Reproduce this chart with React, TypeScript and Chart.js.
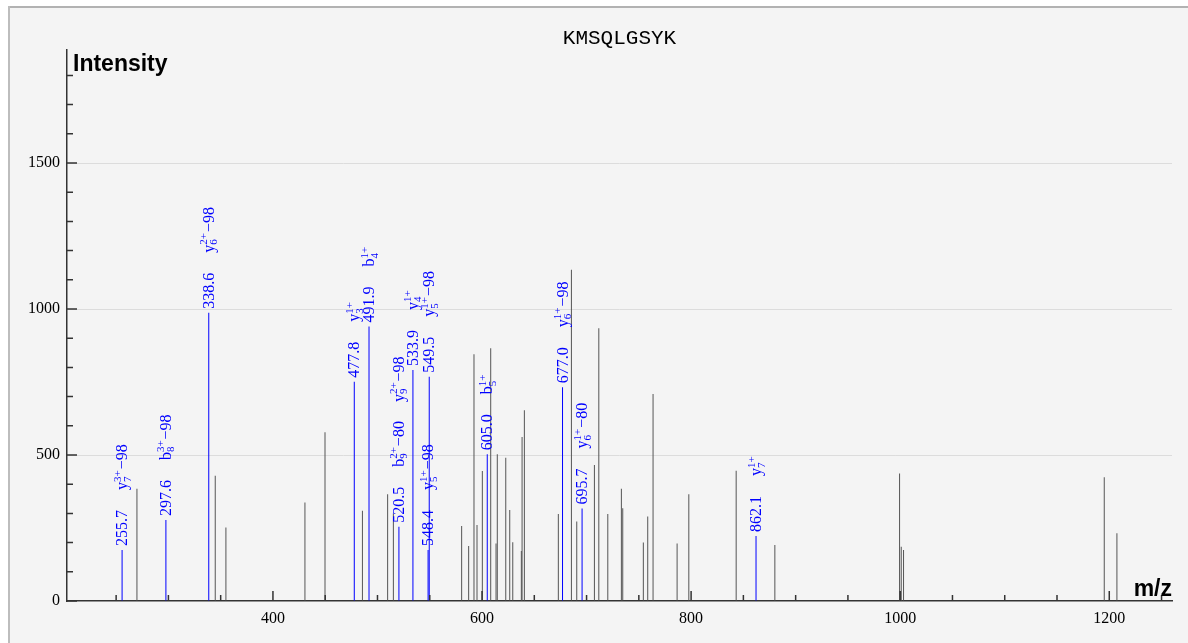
import React, { useEffect, useRef } from 'react';
import { Chart, registerables } from 'chart.js';

Chart.register(...registerables);

const TITLE = 'KMSQLGSYK';
const Y_TITLE = 'Intensity';
const X_TITLE = 'm/z';

// annotated (matched) peaks
const annotatedMz = [255.7, 297.6, 338.6, 477.8, 491.9, 520.5, 533.9, 548.4, 549.5, 605.0, 677.0, 695.7, 862.1];
const annotatedIntensity = [175, 277, 987, 751, 940, 254, 791, 175, 768, 503, 732, 317, 223];
// ion labels: "base,subscript,superscript,loss" ; several ions per peak
const annotatedIons: string[][] = [
  ['y,7,3+,−98'],
  ['b,8,3+,−98'],
  ['y,6,2+,−98'],
  ['y,3,1+,'],
  ['b,4,1+,'],
  ['b,9,2+,−80', 'y,9,2+,−98'],
  ['y,4,1+,'],
  ['y,5,1+,−98'],
  ['y,5,1+,−98'],
  ['b,5,1+,'],
  ['y,6,1+,−98'],
  ['y,6,1+,−80'],
  ['y,7,1+,'],
];

// unmatched peaks
const otherMz = [269.9, 344.8, 355.0, 430.6, 449.8, 485.6, 509.7, 515.2, 580.5, 587.2, 592.3, 595.2, 600.3, 608.3, 613.4, 614.6, 622.7, 626.5, 629.4, 637.6, 638.3, 640.5, 673.0, 685.5, 690.6, 707.5, 711.7, 720.3, 733.3, 734.6, 754.3, 758.5, 763.6, 786.6, 797.8, 843.1, 880.1, 999.4, 1001.0, 1003.2, 1195.2, 1207.3];
const otherIntensity = [384, 429, 252, 337, 578, 309, 366, 300, 257, 188, 845, 260, 445, 866, 197, 503, 491, 312, 201, 171, 562, 653, 298, 1134, 272, 466, 934, 298, 384, 318, 200, 289, 709, 197, 366, 446, 192, 437, 186, 175, 424, 232];

const X_MIN = 203;
const X_MAX = 1260;
const Y_MAX = 1887;
const X_TICK_STEP = 50;
const X_LABEL_STEP = 200;
const Y_TICK_STEP = 100;
const Y_LABEL_STEP = 500;

const SERIF = '"Liberation Serif", "Times New Roman", serif';
const SANS = '"Liberation Sans", Arial, sans-serif';
const MONO = '"Liberation Mono", "Courier New", monospace';
const BLUE = '#0000ff';

export default function App() {
  const ref = useRef<HTMLCanvasElement>(null);

  useEffect(() => {
    const canvas = ref.current;
    if (!canvas) return;

    const framePlugin = {
      id: 'frame',
      beforeDraw(chart: any) {
        const ctx = chart.ctx;
        ctx.save();
        ctx.fillStyle = '#ffffff';
        ctx.fillRect(0, 0, chart.width, chart.height);
        ctx.fillStyle = '#f4f4f4';
        ctx.fillRect(10, 8, chart.width - 10, chart.height - 8);
        ctx.fillStyle = '#b2b2b2';
        ctx.fillRect(8, 6, chart.width - 8, 2);
        ctx.fillStyle = '#bdbdbd';
        ctx.fillRect(8, 6, 2, chart.height - 6);
        ctx.restore();
      },
    };

    const overlayPlugin = {
      id: 'overlay',
      afterDraw(chart: any) {
        const ctx = chart.ctx as CanvasRenderingContext2D;
        const xs = chart.scales.x;
        const ys = chart.scales.y;
        const area = chart.chartArea;
        ctx.save();
        // inward tick marks
        ctx.strokeStyle = '#333';
        ctx.lineWidth = 1.5;
        ctx.beginPath();
        for (let v = Math.ceil(X_MIN / X_TICK_STEP) * X_TICK_STEP; v <= X_MAX; v += X_TICK_STEP) {
          const px = xs.getPixelForValue(v);
          const len = v % X_LABEL_STEP === 0 ? 10 : 6;
          ctx.moveTo(px, area.bottom);
          ctx.lineTo(px, area.bottom - len);
        }
        for (let v = 0; v <= Y_MAX; v += Y_TICK_STEP) {
          const py = ys.getPixelForValue(v);
          const len = v % Y_LABEL_STEP === 0 ? 10 : 6;
          ctx.moveTo(area.left, py);
          ctx.lineTo(area.left + len, py);
        }
        ctx.stroke();

        // peak annotations (rotated)
        ctx.fillStyle = BLUE;
        const BASE = 5;
        const SUP = -1.5;
        const SUB = 8.5;
        annotatedMz.forEach((mz, i) => {
          const px = xs.getPixelForValue(mz);
          const py = ys.getPixelForValue(annotatedIntensity[i]);
          ctx.save();
          ctx.translate(px, py);
          ctx.rotate(-Math.PI / 2);
          ctx.textAlign = 'left';
          ctx.textBaseline = 'alphabetic';
          ctx.font = `16px ${SERIF}`;
          let d = 4;
          const num = mz.toFixed(1);
          ctx.fillText(num, d, BASE);
          d += ctx.measureText(num).width + 20;
          annotatedIons[i].forEach((spec) => {
            const [base, sub, sup, loss] = spec.split(',');
            ctx.font = `16px ${SERIF}`;
            ctx.fillText(base, d, BASE);
            d += ctx.measureText(base).width;
            ctx.font = `11px ${SERIF}`;
            ctx.fillText(sup, d, SUP);
            ctx.fillText(sub, d, SUB);
            d += Math.max(ctx.measureText(sup).width, ctx.measureText(sub).width) + 1;
            if (loss) {
              ctx.font = `16px ${SERIF}`;
              ctx.fillText(loss, d, BASE);
              d += ctx.measureText(loss).width;
            }
            d += 19;
          });
          ctx.restore();
        });

        // titles
        ctx.fillStyle = '#000';
        ctx.font = `21px ${MONO}`;
        ctx.textAlign = 'center';
        ctx.textBaseline = 'alphabetic';
        ctx.fillText(TITLE, (area.left + area.right) / 2, 44);
        ctx.font = `bold 23px ${SANS}`;
        ctx.textAlign = 'left';
        ctx.fillText(Y_TITLE, area.left + 6, 71);
        ctx.textAlign = 'right';
        ctx.fillText(X_TITLE, area.right, area.bottom - 5);
        ctx.restore();
      },
    };

    const chart = new Chart(canvas, {
      type: 'bar',
      data: {
        datasets: [
          {
            data: otherMz.map((x, i) => ({ x, y: otherIntensity[i] })),
            backgroundColor: '#555',
            barThickness: 1,
            grouped: false,
            inflateAmount: 0,
            borderWidth: 0,
          } as any,
          {
            data: annotatedMz.map((x, i) => ({ x, y: annotatedIntensity[i] })),
            backgroundColor: BLUE,
            barThickness: 1,
            grouped: false,
            inflateAmount: 0,
            borderWidth: 0,
          } as any,
        ],
      },
      options: {
        animation: false,
        responsive: false,
        devicePixelRatio: 1,
        layout: { padding: { top: 50, right: 16, left: 0, bottom: 0 } },
        plugins: {
          legend: { display: false },
          tooltip: { enabled: false },
          title: { display: false },
        },
        scales: {
          x: {
            type: 'linear',
            min: X_MIN,
            max: X_MAX,
            offset: false,
            grid: { display: false, offset: false, drawTicks: false },
            border: { display: true, color: '#333', width: 1.5 },
            ticks: {
              stepSize: X_TICK_STEP,
              autoSkip: false,
              includeBounds: false,
              maxRotation: 0,
              padding: 8,
              color: '#000',
              font: { family: SERIF, size: 16 },
              callback: (v: any) => (Number(v) % X_LABEL_STEP === 0 ? String(v) : ''),
            },
            afterFit: (s: any) => {
              s.height = 42;
            },
          },
          y: {
            type: 'linear',
            min: 0,
            max: Y_MAX,
            grid: {
              drawTicks: false,
              lineWidth: 1,
              color: (c: any) =>
                c.tick && c.tick.value > 0 && c.tick.value % Y_LABEL_STEP === 0 ? '#dcdcdc' : 'rgba(0,0,0,0)',
            },
            border: { display: true, color: '#333', width: 1.5 },
            ticks: {
              stepSize: Y_TICK_STEP,
              autoSkip: false,
              includeBounds: false,
              padding: 7,
              color: '#000',
              font: { family: SERIF, size: 16 },
              callback: (v: any) => (Number(v) % Y_LABEL_STEP === 0 ? String(v) : ''),
            },
            afterFit: (s: any) => {
              s.width = 67;
            },
          },
        },
      } as any,
      plugins: [framePlugin, overlayPlugin],
    });

    return () => chart.destroy();
  }, []);

  return (
    <div style={{ position: 'fixed', left: 0, top: 0, width: 1188, height: 643 }}>
      <canvas ref={ref} width={1188} height={643} style={{ display: 'block', width: 1188, height: 643 }} />
    </div>
  );
}
